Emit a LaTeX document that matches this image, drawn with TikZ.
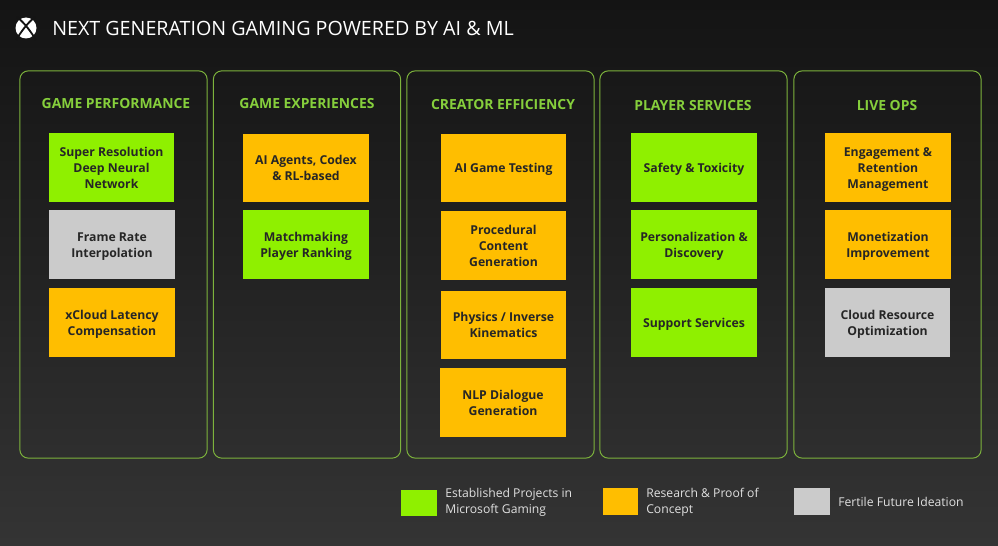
\documentclass[tikz,border=0pt]{standalone}
\usepackage{fontspec}
\setmainfont{Open Sans}
\definecolor{bgtop}{HTML}{141414}
\definecolor{bgbot}{HTML}{343434}
\definecolor{panelline}{HTML}{7DB33C}
\definecolor{headgreen}{HTML}{86CF3C}
\definecolor{estgreen}{HTML}{8FF000}
\definecolor{resorange}{HTML}{FFBE00}
\definecolor{futgrey}{HTML}{CBCBCB}
\tikzset{
panel/.style={draw=panelline,line width=0.7pt,rounded corners=6pt,minimum width=4.68cm,minimum height=9.68cm},
head/.style={text=headgreen,font=\fontsize{9.9}{12}\selectfont\bfseries},
card/.style={minimum width=3.14cm,minimum height=1.72cm,align=center,inner sep=0pt,text=black!85,font=\fontsize{8.7}{11.5}\selectfont\bfseries,text depth=3pt},
oneline/.style={text height=9.4pt},
twoline/.style={text height=21.4pt},
threeline/.style={text height=32.8pt},
est/.style={card,fill=estgreen},
res/.style={card,fill=resorange},
fut/.style={card,fill=futgrey},
swatch/.style={minimum width=.89cm,minimum height=.66cm,inner sep=0pt},
legtext/.style={text=white!88!black,align=left,anchor=west,inner sep=0pt,font=\fontsize{8.65}{11.4}\selectfont}
}
\begin{document}
\begin{tikzpicture}[x=.025cm,y=-.025cm]

\useasboundingbox (0,0) rectangle (998,545);
\shade[top color=bgtop,bottom color=bgbot,middle color=bgtop!55!bgbot] (0,0) rectangle (998,545);

%logo
\fill[white] (26,28) circle (10.5);
\draw[bgtop,line width=1.3pt] (17,17) .. controls (22,21) and (28,27) .. (36,40);
\draw[bgtop,line width=1.3pt] (35,17) .. controls (30,21) and (24,27) .. (16,40);

\node (title) at (283,28)[text=white,font=\fontsize{14}{16}\selectfont]{NEXT GENERATION GAMING POWERED BY AI \& ML};

%columns
\foreach \x/\c in {113.5/perf,307/expr,500.5/crea,693.5/serv,887.5/live}
{
\node (\c) at (\x,264.5)[panel]{};
}

\node (perfhead) at (116,104)[head]{GAME PERFORMANCE};
\node (exprhead) at (307,104)[head]{GAME EXPERIENCES};
\node (creahead) at (503,105)[head]{CREATOR EFFICIENCY};
\node (servhead) at (693,106)[head]{PLAYER SERVICES};
\node (livehead) at (887,106)[head]{LIVE OPS};

%game performance
\node (superres) at (111.5,167.5)[est,threeline]{Super Resolution\\Deep Neural\\Network};
\node (framerate) at (112,244.5)[fut,twoline]{Frame Rate\\Interpolation};
\node (latency) at (112,322.5)[res,twoline]{xCloud Latency\\Compensation};

%game experiences
\node (agents) at (306,168)[res,twoline]{AI Agents, Codex\\\& RL-based};
\node (matchmaking) at (306,244.5)[est,twoline]{Matchmaking\\Player Ranking};

%creator efficiency
\node (testing) at (503.5,168)[res,oneline]{AI Game Testing};
\node (procedural) at (503.5,245.5)[res,threeline]{Procedural\\Content\\Generation};
\node (physics) at (503.5,325)[res,twoline]{Physics / Inverse\\Kinematics};
\node (dialogue) at (503,402.5)[res,twoline]{NLP Dialogue\\Generation};

%player services
\node (safety) at (694,167.5)[est,oneline]{Safety \& Toxicity};
\node (discovery) at (694,244.5)[est,twoline]{Personalization \&\\Discovery};
\node (support) at (694,322.5)[est,oneline]{Support Services};

%live ops
\node (engagement) at (888,167.5)[res,threeline]{Engagement \&\\Retention\\Management};
\node (monetization) at (888,244.5)[res,twoline]{Monetization\\Improvement};
\node (cloudres) at (887.5,322.5)[fut,twoline]{Cloud Resource\\Optimization};

%legend
\node (estbox) at (419,503)[swatch,fill=estgreen]{};
\node (resbox) at (620.5,501.5)[swatch,fill=resorange]{};
\node (futbox) at (812,501.5)[swatch,fill=futgrey]{};
\node (esttext) at (445,502)[legtext]{Established Projects in\\Microsoft Gaming};
\node (restext) at (646,502)[legtext]{Research \& Proof of\\Concept};
\node (futtext) at (838,502)[legtext]{Fertile Future Ideation};

\end{tikzpicture}
\end{document}
